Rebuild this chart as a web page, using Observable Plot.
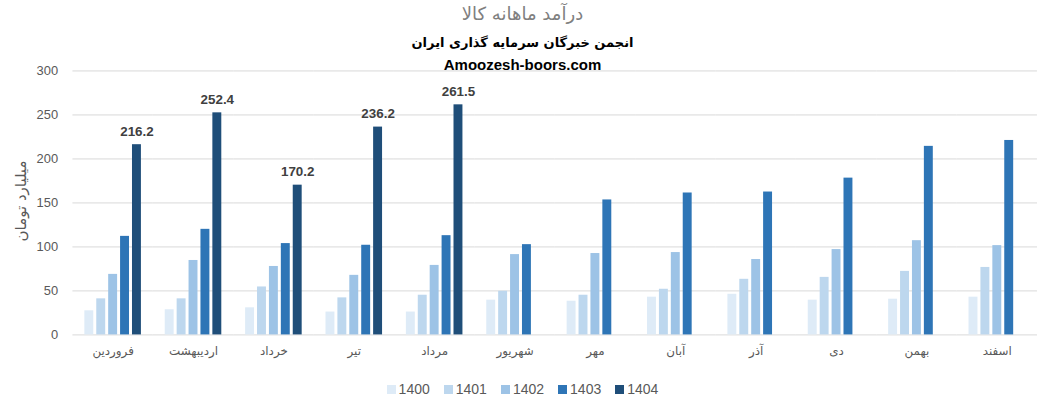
<!DOCTYPE html>
<html><head><meta charset="utf-8">
<script src="https://cdn.jsdelivr.net/npm/d3@7"></script>
<script src="https://cdn.jsdelivr.net/npm/@observablehq/plot@0.6"></script>
<style>
html,body{margin:0;padding:0;background:#fff;overflow:hidden;}
#wrap{position:relative;width:1037px;height:410px;overflow:hidden;font-family:"DejaVu Sans","Open Sans",sans-serif;}
#wrap svg{position:absolute;left:0;top:0;}
.t{position:absolute;left:0;width:1045px;text-align:center;white-space:nowrap;}
#title{top:3px;font-size:18px;color:#7f7f7f;}
#sub{top:35px;font-size:13px;font-weight:bold;color:#000;}
#site{top:56px;font-size:15px;font-weight:bold;color:#000;font-family:"Liberation Sans","DejaVu Sans",sans-serif;}
#ylab{position:absolute;left:21px;top:201px;transform:translate(-50%,-50%) rotate(-90deg);font-size:15px;color:#595959;white-space:nowrap;}
#legend{position:absolute;top:381px;left:0;width:1045px;display:flex;justify-content:center;gap:14px;font-family:"Liberation Sans",sans-serif;font-size:14px;color:#595959;}
#legend span.i{display:flex;align-items:center;gap:3px;}
#legend span.s{display:inline-block;width:9px;height:9px;}
</style></head>
<body>
<div id="wrap">
<div id="chart"></div>
<div class="t" id="title" dir="rtl">درآمد ماهانه کالا</div>
<div class="t" id="sub" dir="rtl">انجمن خبرگان سرمایه گذاری ایران</div>
<div class="t" id="site">Amoozesh-boors.com</div>
<div id="ylab" dir="rtl">میلیارد تومان</div>
<div id="legend"></div>
</div>
<script>
const months = ["فروردین","اردیبهشت","خرداد","تیر","مرداد","شهریور","مهر","آبان","آذر","دی","بهمن","اسفند"];
const years = ["1400","1401","1402","1403","1404"];
const colors = ["#DEEBF7","#BDD7EE","#9DC3E6","#2E75B6","#1F4E79"];
const v1400 = [27.4,28.6,30.8,26.0,26.0,39.5,38.3,42.9,46.2,39.5,40.6,42.9];
const v1401 = [41.0,41.0,54.5,42.1,45.1,49.6,45.1,51.9,63.2,65.4,72.2,76.7];
const v1402 = [68.8,84.6,77.8,67.7,79.0,91.3,92.5,93.6,85.7,97.0,107.1,101.5];
const v1403 = [112.0,120.0,103.8,101.9,112.8,102.6,153.4,161.3,162.4,178.2,214.3,221.0];
const v1404 = [216.2,252.4,170.2,236.2,261.5,null,null,null,null,null,null,null];
const yTicks = [0,50,100,150,200,250,300];

const series = [v1400,v1401,v1402,v1403,v1404];
const rows = [];
months.forEach((m,i)=>{
  years.forEach((y,j)=>{
    const v = series[j][i];
    if (v != null) rows.push({month:m, year:y, value:v});
  });
});
const labeled = rows.filter(d=>d.year==="1404");

const chart = Plot.plot({
  width: 1045,
  height: 410,
  marginTop: 71,
  marginBottom: 73,
  marginLeft: 73,
  marginRight: 0,
  style: {fontFamily: '"DejaVu Sans","Open Sans",sans-serif', background:"transparent"},
  fx: {domain: months, padding: 0, axis: null},
  x: {domain: years, paddingInner: 0.21, paddingOuter: 0.91, axis: null},
  y: {domain: [0,300]},
  color: {domain: years, range: colors},
  marks: [
    Plot.gridY(yTicks, {stroke:"#d9d9d9", strokeOpacity:1, strokeWidth:1}),
    Plot.axisY(yTicks, {tickSize:0, tickPadding:15, label:null, fontSize:13, color:"#595959", fontFamily:'"Liberation Sans",sans-serif'}),
    Plot.axisFx({anchor:"bottom", tickSize:0, tickPadding:12, label:null, fontSize:12, color:"#595959"}),
    Plot.barY(rows, {fx:"month", x:"year", y:"value", fill:"year"}),
    Plot.text(labeled, {fx:"month", x:"year", y:"value", text: d=>d.value.toFixed(1), lineAnchor:"bottom", dy:-9, fontWeight:"bold", fontSize:13.5, fill:"#404040", fontFamily:'"Liberation Sans",sans-serif'})
  ]
});
document.getElementById("chart").appendChild(chart);

const lg = document.getElementById("legend");
years.forEach((y,i)=>{
  const it = document.createElement("span"); it.className="i";
  const s = document.createElement("span"); s.className="s"; s.style.background = colors[i];
  const t = document.createElement("span"); t.textContent = y;
  it.appendChild(s); it.appendChild(t); lg.appendChild(it);
});
</script>
</body></html>
